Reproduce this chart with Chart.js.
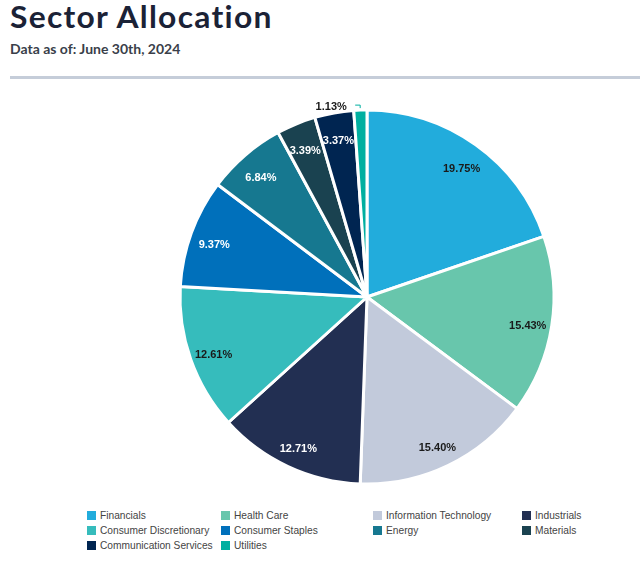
<!DOCTYPE html>
<html>
<head>
<meta charset="utf-8">
<script src="https://cdn.jsdelivr.net/npm/chart.js@4"></script>
<style>
  html, body { margin:0; padding:0; background:#fff; width:640px; height:574px; overflow:hidden; }
  #title { position:absolute; left:10px; top:-2px; font-family:Lato, sans-serif; font-weight:700; font-size:30px; color:#1b2236; letter-spacing:1.2px; transform:scaleX(1.06); transform-origin:left top; white-space:nowrap; }
  #sub { position:absolute; left:10px; top:40px; font-family:Lato, sans-serif; font-weight:700; font-size:14px; color:#3a3f4a; }
  #rule { position:absolute; left:10px; right:0; top:76px; height:3px; background:#c5cdd9; }
  #wrap { position:absolute; left:167px; top:97px; width:400px; height:400px; }
  #legend { position:absolute; left:87px; top:508px; font-family:"Liberation Sans", Arial, sans-serif; font-size:10.2px; color:#444; }
  .item { position:absolute; white-space:nowrap; height:15px; line-height:15px; }
  .box { display:inline-block; width:9px; height:9px; vertical-align:-1px; margin-right:4px; }
</style>
</head>
<body>
<div id="title">Sector Allocation</div>
<div id="sub">Data as of: June 30th, 2024</div>
<div id="rule"></div>
<div id="wrap"><canvas id="c" width="400" height="400"></canvas></div>
<div id="legend"></div>
<script>
const categories = ["Financials","Health Care","Information Technology","Industrials","Consumer Discretionary","Consumer Staples","Energy","Materials","Communication Services","Utilities"];
const values = [19.75, 15.43, 15.40, 12.71, 12.61, 9.37, 6.84, 3.39, 3.37, 1.13];
const colors = ["#22acdc","#68c6ac","#c2cadb","#222f52","#36bcbc","#0070bb","#167890","#1a4250","#002551","#00afa0"];
const labelColors = ["#1a1a1a","#1a1a1a","#1a1a1a","#ffffff","#1a1a1a","#ffffff","#ffffff","#ffffff","#ffffff","#1a1a1a"];
const outsideMin = 2;

const labelPlugin = {
  id: 'sliceLabels',
  afterDatasetsDraw(chart) {
    const ctx = chart.ctx;
    const meta = chart.getDatasetMeta(0);
    ctx.save();
    ctx.font = 'bold 11px "Liberation Sans", Arial, sans-serif';
    ctx.textAlign = 'center';
    ctx.textBaseline = 'middle';
    meta.data.forEach((arc, i) => {
      const p = arc.getProps(['x','y','startAngle','endAngle','outerRadius'], true);
      const mid = (p.startAngle + p.endAngle) / 2;
      const txt = values[i].toFixed(2) + '%';
      if (values[i] >= outsideMin) {
        const r = p.outerRadius * 0.87;
        ctx.fillStyle = labelColors[i];
        ctx.fillText(txt, p.x + Math.cos(mid) * r, p.y + Math.sin(mid) * r + 4);
      } else {
        const ro = p.outerRadius + 5;
        const hx = p.x + Math.cos(mid) * ro;
        const hy = p.y + Math.sin(mid) * ro;
        ctx.strokeStyle = colors[i];
        ctx.lineWidth = 1;
        ctx.beginPath();
        ctx.moveTo(hx - 5, hy);
        ctx.lineTo(hx, hy);
        ctx.lineTo(hx, hy + 3);
        ctx.stroke();
        ctx.fillStyle = labelColors[i];
        ctx.fillText(txt, hx - 29, hy + 2);
      }
    });
    ctx.restore();
  }
};

new Chart(document.getElementById('c'), {
  type: 'pie',
  data: {
    labels: categories,
    datasets: [{ data: values, backgroundColor: colors, borderColor: '#ffffff', borderWidth: 3, hoverOffset: 0 }]
  },
  options: {
    responsive: false,
    animation: false,
    radius: 187,
    layout: { padding: 0 },
    plugins: { legend: { display: false }, tooltip: { enabled: false } }
  },
  plugins: [labelPlugin]
});

const colX = [0, 134, 286, 435];
const leg = document.getElementById('legend');
categories.forEach((name, i) => {
  const d = document.createElement('div');
  d.className = 'item';
  d.style.left = colX[i % 4] + 'px';
  d.style.top = (Math.floor(i / 4) * 15) + 'px';
  d.innerHTML = '<span class="box" style="background:' + colors[i] + '"></span>' + name;
  leg.appendChild(d);
});
</script>
</body>
</html>
